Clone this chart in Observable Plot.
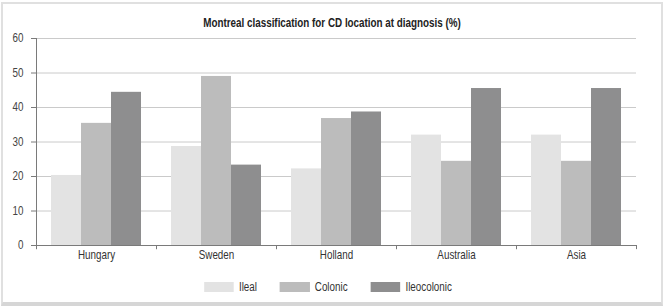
<!DOCTYPE html>
<html>
<head>
<meta charset="utf-8">
<script src="https://cdn.jsdelivr.net/npm/d3@7"></script>
<script src="https://cdn.jsdelivr.net/npm/@observablehq/plot@0.6"></script>
<style>
  html, body { margin: 0; padding: 0; background: #fff; }
  #root { position: relative; width: 664px; height: 307px; overflow: hidden; background: #fff;
          font-family: "Liberation Sans", Arial, sans-serif; }
  #border { position: absolute; left: 1px; top: 2px; width: 658px; height: 298px;
            border: 2px solid #e0e0e0; border-bottom: 4px solid #d6d6d6; }
  #title { position: absolute; left: 0; top: 13px; width: 664px; text-align: center; }
  #title span { display: inline-block; font-weight: bold; font-size: 12px; color: #222; transform: scaleX(0.82); }
  #chart { position: absolute; left: 0; top: 28px; }
  #legend { position: absolute; left: 0; top: 280px; width: 664px; display: flex; justify-content: center;
            align-items: center; font-size: 12px; color: #333; transform: scaleX(0.82);
            transform-origin: 328px 50%; padding-right: 8px; box-sizing: border-box; }
  .item { display: flex; align-items: center; margin: 0 14px; }
  .sw { width: 36.5px; height: 10px; margin-right: 6px; }
</style>
</head>
<body>
<div id="root">
  <div id="border"></div>
  <div id="title"><span></span></div>
  <div id="chart"></div>
  <div id="legend"></div>
</div>
<script>
const titleText = "Montreal classification for CD location at diagnosis (%)";
const countries = ["Hungary", "Sweden", "Holland", "Australia", "Asia"];
const series = ["Ileal", "Colonic", "Ileocolonic"];
const ileal = [20.3, 28.7, 22.2, 32.0, 32.0];
const colonic = [35.4, 49.0, 36.8, 24.4, 24.4];
const ileocolonic = [44.4, 23.3, 38.7, 45.5, 45.5];
const colors = ["#e3e3e3", "#bcbcbc", "#8e8e8f"];
const yTicks = [0, 10, 20, 30, 40, 50, 60];

const valuesBySeries = [ileal, colonic, ileocolonic];
const data = [];
countries.forEach((c, i) => {
  series.forEach((s, j) => data.push({country: c, series: s, value: valuesBySeries[j][i]}));
});

document.querySelector("#title span").textContent = titleText;

const axisColor = "#7a7a7a";
const slots = series.length + 1;

const chart = Plot.plot({
  width: 664,
  height: 242,
  marginTop: 10,
  marginBottom: 25,
  marginLeft: 34,
  marginRight: 27,
  style: {fontFamily: '"Liberation Sans", Arial, sans-serif', fontSize: "12px", color: "#333", background: "transparent"},
  fx: {domain: countries, padding: 0, label: null, tickSize: 0, tickPadding: 5, axis: "bottom"},
  x: {domain: [0, slots], axis: null},
  y: {domain: [0, 60], axis: null},
  color: {domain: series, range: colors},
  marks: [
    Plot.ruleY(yTicks.slice(1), {stroke: "#cacaca"}),
    Plot.rect(data, {
      fx: "country",
      x1: d => series.indexOf(d.series) + 0.5,
      x2: d => series.indexOf(d.series) + 1.5,
      y1: 0,
      y2: "value",
      fill: "series"
    }),
    Plot.ruleY([0], {stroke: axisColor}),
    Plot.ruleX([0, slots], {y1: -1.2, y2: 0, stroke: axisColor}),
    Plot.ruleX([{c: countries[0]}], {fx: "c", x: () => 0, y1: -1.2, y2: 60, stroke: axisColor}),
    Plot.axisY({ticks: yTicks, tickSize: 5, tickPadding: 8, stroke: axisColor, fill: "#444", fontSize: 12, label: null})
  ]
});
document.getElementById("chart").appendChild(chart);

// narrow the axis label glyphs (condensed look of the original)
d3.select(chart).selectAll('g[aria-label="fx-axis tick label"] text, g[aria-label="y-axis tick label"] text')
  .attr("transform", function() {
    const t = this.getAttribute("transform") || "";
    return t + " scale(0.82,1)";
  });

const legend = document.getElementById("legend");
series.forEach((s, j) => {
  const item = document.createElement("div");
  item.className = "item";
  const sw = document.createElement("div");
  sw.className = "sw";
  sw.style.background = colors[j];
  const t = document.createElement("span");
  t.textContent = s;
  item.appendChild(sw);
  item.appendChild(t);
  legend.appendChild(item);
});
</script>
</body>
</html>
